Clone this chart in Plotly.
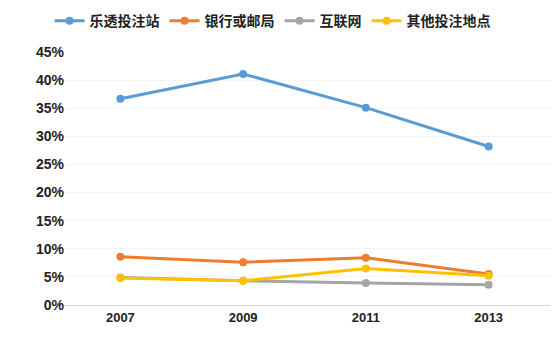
import plotly.graph_objects as go

years = ["2007", "2009", "2011", "2013"]
series_names = ["乐透投注站", "银行或邮局", "互联网", "其他投注地点"]
lottery = [0.367, 0.411, 0.351, 0.282]
bank = [0.086, 0.076, 0.084, 0.055]
internet = [0.049, 0.043, 0.039, 0.036]
other = [0.048, 0.043, 0.065, 0.052]
colors = ["#5B9BD5", "#ED7D31", "#A5A5A5", "#FFC000"]
y_ticks = [0, 0.05, 0.10, 0.15, 0.20, 0.25, 0.30, 0.35, 0.40, 0.45]

fig = go.Figure()
for name, vals, c in zip(series_names, [lottery, bank, internet, other], colors):
    fig.add_trace(go.Scatter(
        x=years, y=vals, name=f"<b>{name}</b>", mode="lines+markers",
        line=dict(color=c, width=3), marker=dict(color=c, size=8),
    ))

fig.update_layout(
    width=554, height=346,
    margin=dict(l=59, r=4, t=52, b=41),
    paper_bgcolor="white", plot_bgcolor="white",
    font=dict(family="Liberation Sans, Arial", color="#222"),
    legend=dict(orientation="h", x=0.435, xanchor="center", y=0.985, yanchor="top",
                yref="container", itemwidth=30,
                font=dict(family="Noto Sans CJK SC", size=14, color="#222"),
                traceorder="normal"),
    showlegend=True,
)
fig.update_xaxes(type="category", showline=True, linecolor="#D9D9D9", linewidth=1,
                 showgrid=False, ticks="", tickfont=dict(size=13, family="Liberation Sans", color="#222"),
                 range=[-0.5, 3.5])
fig.update_yaxes(range=[0, 0.45], tickvals=y_ticks, tickformat=".0%", showgrid=True,
                 gridcolor="#F4F4F4", zeroline=False, showline=False, ticklabelstandoff=-6,
                 tickfont=dict(size=14, family="Liberation Sans", color="#222"))
fig.update_xaxes(ticktext=[f"<b>{y}</b>" for y in years], tickvals=years)
fig.update_yaxes(ticktext=[f"<b>{int(round(v*100))}%</b>" for v in y_ticks])

fig.write_html("out.html")
